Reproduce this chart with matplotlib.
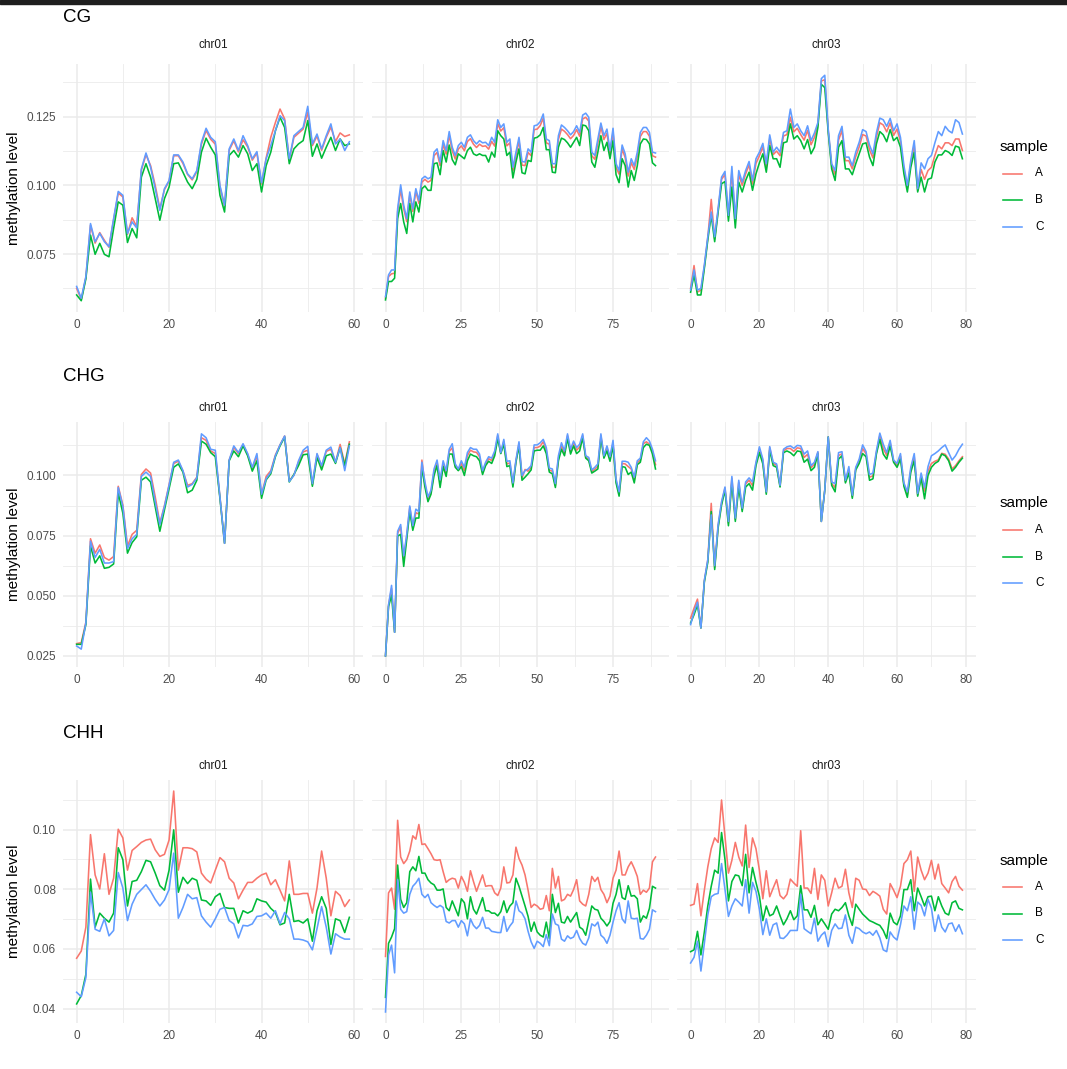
import matplotlib
matplotlib.use('Agg')
import matplotlib.pyplot as plt
from matplotlib.ticker import MultipleLocator, FormatStrFormatter
from matplotlib.lines import Line2D
from matplotlib.patches import Rectangle

plt.rcParams['font.family'] = ['Liberation Sans', 'DejaVu Sans']

# ---- data: methylation level per window, by context / chromosome / sample ----
contexts = ['CG', 'CHG', 'CHH']
chroms = ['chr01', 'chr02', 'chr03']
samples = ['A', 'B', 'C']
colors = {'A': '#F8766D', 'B': '#00BA38', 'C': '#619CFF'}

cg_chr01_A = [0.0625,0.0585,0.0665,0.0855,0.0790,0.0828,0.0800,0.0775,0.0875,0.0972,
              0.0958,0.0822,0.0882,0.0850,0.1055,0.1112,0.1072,0.1000,0.0915,0.0985,
              0.1015,0.1108,0.1108,0.1080,0.1040,0.1020,0.1050,0.1150,0.1200,0.1168,
              0.1150,0.0995,0.0925,0.1128,0.1162,0.1122,0.1166,0.1140,0.1092,0.1118,
              0.1005,0.1100,0.1175,0.1229,0.1278,0.1242,0.1092,0.1175,0.1190,0.1205,
              0.1266,0.1145,0.1180,0.1128,0.1175,0.1212,0.1160,0.1191,0.1178,0.1184]
cg_chr01_B = [0.0601,0.0580,0.0660,0.0819,0.0749,0.0789,0.0749,0.0740,0.0843,0.0940,
              0.0928,0.0792,0.0843,0.0809,0.1030,0.1079,0.1030,0.0952,0.0873,0.0952,
              0.0994,0.1079,0.1082,0.1048,0.1012,0.0988,0.1022,0.1121,0.1172,0.1139,
              0.1111,0.0964,0.0903,0.1109,0.1127,0.1103,0.1145,0.1115,0.1054,0.1079,
              0.0976,0.1072,0.1121,0.1199,0.1248,0.1211,0.1079,0.1133,0.1151,0.1163,
              0.1236,0.1106,0.1151,0.1099,0.1139,0.1175,0.1127,0.1169,0.1145,0.1151]
cg_chr01_C = [0.0632,0.0589,0.0668,0.0861,0.0795,0.0825,0.0795,0.0777,0.0879,0.0978,
              0.0964,0.0825,0.0867,0.0845,0.1060,0.1118,0.1066,0.0988,0.0909,0.0988,
              0.1018,0.1111,0.1111,0.1085,0.1042,0.1024,0.1054,0.1157,0.1208,0.1175,
              0.1159,0.1000,0.0928,0.1133,0.1169,0.1127,0.1181,0.1145,0.1097,0.1123,
              0.1010,0.1097,0.1145,0.1199,0.1254,0.1236,0.1097,0.1181,0.1196,0.1211,
              0.1288,0.1151,0.1187,0.1133,0.1181,0.1224,0.1151,0.1169,0.1127,0.1159]

cg_chr02_A = [0.0590,0.0668,0.0678,0.0680,0.0905,0.0985,0.0915,0.0868,0.0965,0.0905,
              0.0978,0.0935,0.1012,0.1022,0.1012,0.1018,0.1108,0.1120,0.1072,0.1150,
              0.1114,0.1183,0.1126,0.1096,0.1132,0.1144,0.1126,0.1160,0.1170,0.1150,
              0.1138,0.1150,0.1142,0.1144,0.1132,0.1160,0.1143,0.1225,0.1198,0.1210,
              0.1144,0.1155,0.1053,0.1108,0.1162,0.1074,0.1072,0.1120,0.1108,0.1203,
              0.1205,0.1218,0.1245,0.1155,0.1150,0.1066,0.1066,0.1167,0.1205,0.1197,
              0.1185,0.1170,0.1182,0.1203,0.1179,0.1242,0.1248,0.1234,0.1108,0.1095,
              0.1155,0.1213,0.1167,0.1190,0.1113,0.1194,0.1066,0.1041,0.1133,0.1101,
              0.1034,0.1083,0.1058,0.1107,0.1178,0.1196,0.1196,0.1179,0.1108,0.1103]
cg_chr02_B = [0.0583,0.0650,0.0650,0.0662,0.0879,0.0934,0.0867,0.0825,0.0934,0.0867,
              0.0940,0.0903,0.0988,0.0998,0.0982,0.0982,0.1079,0.1082,0.1039,0.1127,
              0.1085,0.1147,0.1094,0.1075,0.1115,0.1106,0.1097,0.1127,0.1139,0.1115,
              0.1109,0.1115,0.1109,0.1109,0.1085,0.1121,0.1103,0.1199,0.1181,0.1169,
              0.1109,0.1121,0.1027,0.1085,0.1133,0.1046,0.1042,0.1091,0.1087,0.1172,
              0.1175,0.1184,0.1211,0.1130,0.1130,0.1048,0.1046,0.1139,0.1172,0.1167,
              0.1155,0.1139,0.1157,0.1175,0.1145,0.1220,0.1217,0.1199,0.1085,0.1066,
              0.1121,0.1181,0.1127,0.1157,0.1097,0.1163,0.1039,0.1010,0.1097,0.1072,
              0.0994,0.1054,0.1018,0.1072,0.1151,0.1169,0.1167,0.1151,0.1082,0.1072]
cg_chr02_C = [0.0595,0.0674,0.0692,0.0692,0.0915,0.1002,0.0928,0.0879,0.0976,0.0915,
              0.0988,0.0946,0.1024,0.1033,0.1024,0.1030,0.1121,0.1133,0.1085,0.1163,
              0.1127,0.1196,0.1139,0.1109,0.1145,0.1157,0.1139,0.1175,0.1184,0.1163,
              0.1151,0.1163,0.1155,0.1157,0.1145,0.1175,0.1157,0.1239,0.1211,0.1224,
              0.1157,0.1169,0.1066,0.1121,0.1175,0.1087,0.1085,0.1133,0.1121,0.1217,
              0.1220,0.1232,0.1260,0.1169,0.1163,0.1079,0.1079,0.1181,0.1220,0.1211,
              0.1199,0.1184,0.1196,0.1217,0.1193,0.1256,0.1263,0.1248,0.1121,0.1109,
              0.1169,0.1227,0.1181,0.1205,0.1127,0.1208,0.1079,0.1054,0.1147,0.1115,
              0.1048,0.1097,0.1072,0.1121,0.1193,0.1211,0.1211,0.1193,0.1121,0.1118]

cg_chr03_A = [0.0625,0.0708,0.0612,0.0618,0.0705,0.0810,0.0949,0.0805,0.0910,0.1022,
              0.1040,0.0885,0.1050,0.0870,0.1040,0.1000,0.1042,0.1075,0.1005,0.1080,
              0.1108,0.1140,0.1068,0.1170,0.1112,0.1125,0.1108,0.1180,0.1185,0.1248,
              0.1195,0.1208,0.1185,0.1165,0.1200,0.1148,0.1175,0.1222,0.1380,0.1385,
              0.1200,0.1072,0.1040,0.1165,0.1200,0.1090,0.1090,0.1060,0.1105,0.1140,
              0.1185,0.1180,0.1130,0.1100,0.1175,0.1228,0.1220,0.1195,0.1228,0.1182,
              0.1205,0.1160,0.1058,0.0990,0.1080,0.1148,0.0982,0.1058,0.1022,0.1054,
              0.1066,0.1109,0.1145,0.1133,0.1155,0.1155,0.1145,0.1169,0.1169,0.1127]
cg_chr03_B = [0.0611,0.0674,0.0601,0.0601,0.0698,0.0801,0.0891,0.0795,0.0903,0.1006,
              0.1014,0.0870,0.0994,0.0845,0.1012,0.0976,0.1018,0.1048,0.0982,0.1042,
              0.1082,0.1115,0.1048,0.1145,0.1097,0.1097,0.1066,0.1155,0.1159,0.1224,
              0.1169,0.1181,0.1163,0.1133,0.1167,0.1115,0.1139,0.1211,0.1368,0.1356,
              0.1193,0.1060,0.1018,0.1139,0.1163,0.1060,0.1060,0.1039,0.1079,0.1115,
              0.1151,0.1155,0.1103,0.1072,0.1151,0.1196,0.1184,0.1159,0.1203,0.1163,
              0.1175,0.1139,0.1042,0.0976,0.1066,0.1121,0.0976,0.1030,0.0976,0.1022,
              0.1027,0.1085,0.1111,0.1111,0.1127,0.1121,0.1109,0.1143,0.1139,0.1097]
cg_chr03_C = [0.0619,0.0692,0.0619,0.0625,0.0710,0.0813,0.0903,0.0813,0.0915,0.1030,
              0.1051,0.0891,0.1069,0.0879,0.1054,0.1012,0.1054,0.1087,0.1018,0.1097,
              0.1121,0.1153,0.1079,0.1184,0.1121,0.1139,0.1121,0.1193,0.1199,0.1278,
              0.1211,0.1224,0.1199,0.1181,0.1217,0.1163,0.1191,0.1229,0.1389,0.1401,
              0.1205,0.1079,0.1054,0.1181,0.1215,0.1103,0.1103,0.1072,0.1121,0.1157,
              0.1203,0.1196,0.1147,0.1115,0.1191,0.1245,0.1239,0.1215,0.1244,0.1199,
              0.1224,0.1175,0.1072,0.1000,0.1091,0.1163,0.0988,0.1082,0.1060,0.1097,
              0.1109,0.1155,0.1196,0.1181,0.1215,0.1199,0.1191,0.1239,0.1229,0.1187]

chg_chr01_A = [0.0301,0.0305,0.0390,0.0737,0.0677,0.0711,0.0659,0.0648,0.0663,0.0955,
               0.0877,0.0707,0.0755,0.0772,0.1004,0.1027,0.1010,0.0911,0.0802,0.0875,
               0.0962,0.1050,0.1059,0.1018,0.0959,0.0966,0.0993,0.1157,0.1146,0.1102,
               0.1091,0.0911,0.0718,0.1064,0.1116,0.1091,0.1128,0.1088,0.1028,0.1082,
               0.0920,0.0996,0.1020,0.1085,0.1127,0.1164,0.0978,0.1002,0.1055,0.1098,
               0.1105,0.0962,0.1088,0.1036,0.1100,0.1109,0.1055,0.1129,0.1048,0.1140]
chg_chr01_B = [0.0298,0.0298,0.0380,0.0707,0.0636,0.0666,0.0614,0.0618,0.0632,0.0928,
               0.0843,0.0677,0.0721,0.0745,0.0980,0.0993,0.0973,0.0870,0.0768,0.0857,
               0.0945,0.1034,0.1048,0.1014,0.0928,0.0939,0.0980,0.1143,0.1130,0.1095,
               0.1078,0.0905,0.0718,0.1061,0.1102,0.1078,0.1123,0.1082,0.1018,0.1061,
               0.0905,0.0982,0.1007,0.1078,0.1123,0.1160,0.0973,0.1004,0.1041,0.1086,
               0.1089,0.0955,0.1075,0.1023,0.1082,0.1089,0.1050,0.1116,0.1041,0.1130]
chg_chr01_C = [0.0291,0.0278,0.0387,0.0727,0.0659,0.0693,0.0636,0.0636,0.0642,0.0950,
               0.0871,0.0696,0.0737,0.0755,0.0996,0.1014,0.0996,0.0891,0.0796,0.0871,
               0.0959,0.1055,0.1064,0.1020,0.0952,0.0963,0.0990,0.1173,0.1157,0.1109,
               0.1105,0.0911,0.0718,0.1064,0.1123,0.1095,0.1132,0.1091,0.1034,0.1091,
               0.0922,0.0986,0.1014,0.1082,0.1127,0.1164,0.0975,0.1000,0.1061,0.1105,
               0.1121,0.0966,0.1091,0.1041,0.1105,0.1118,0.1055,0.1116,0.1020,0.1123]

chg_chr02_A = [0.0250,0.0460,0.0530,0.0348,0.0760,0.0785,0.0650,0.0748,0.0868,0.0782,
               0.0845,0.0840,0.1064,0.0962,0.0902,0.0930,0.1015,0.1055,0.0968,0.1050,
               0.1010,0.1100,0.1115,0.1040,0.1022,0.1050,0.1020,0.1082,0.1105,0.1098,
               0.1096,0.1078,0.1012,0.1048,0.1070,0.1062,0.1093,0.1165,0.1093,0.1142,
               0.1048,0.1052,0.0960,0.1060,0.1132,0.0990,0.1025,0.1018,0.1033,0.1116,
               0.1116,0.1122,0.1140,0.1105,0.1022,0.1018,0.0958,0.1072,0.1124,0.1092,
               0.1165,0.1100,0.1134,0.1105,0.1118,0.1165,0.1075,0.1068,0.1016,0.1026,
               0.1038,0.1165,0.1077,0.1112,0.1068,0.1135,0.0978,0.0923,0.1050,0.1048,
               0.1037,0.1027,0.0982,0.1053,0.1064,0.1132,0.1140,0.1130,0.1100,0.1045]
chg_chr02_B = [0.0250,0.0455,0.0502,0.0348,0.0748,0.0755,0.0622,0.0735,0.0850,0.0772,
               0.0823,0.0823,0.1034,0.0952,0.0891,0.0922,0.1000,0.1041,0.0950,0.1037,
               0.0996,0.1089,0.1089,0.1034,0.1020,0.1037,0.1000,0.1061,0.1089,0.1082,
               0.1078,0.1061,0.1004,0.1041,0.1059,0.1050,0.1082,0.1154,0.1091,0.1130,
               0.1037,0.1041,0.0952,0.1055,0.1123,0.0980,0.0993,0.1007,0.1023,0.1102,
               0.1105,0.1105,0.1123,0.1091,0.1014,0.1007,0.0950,0.1061,0.1109,0.1082,
               0.1154,0.1089,0.1123,0.1091,0.1102,0.1157,0.1072,0.1061,0.1010,0.1018,
               0.1027,0.1157,0.1072,0.1102,0.1059,0.1123,0.0969,0.0914,0.1037,0.1034,
               0.1004,0.1014,0.0969,0.1045,0.1055,0.1116,0.1130,0.1125,0.1089,0.1027]
chg_chr02_C = [0.0250,0.0462,0.0543,0.0348,0.0768,0.0796,0.0666,0.0755,0.0873,0.0791,
               0.0860,0.0850,0.1055,0.0973,0.0911,0.0939,0.1027,0.1064,0.0982,0.1061,
               0.1020,0.1109,0.1132,0.1048,0.1027,0.1061,0.1034,0.1095,0.1116,0.1109,
               0.1109,0.1089,0.1020,0.1055,0.1078,0.1072,0.1102,0.1173,0.1095,0.1150,
               0.1059,0.1061,0.0969,0.1064,0.1140,0.1000,0.1020,0.1027,0.1041,0.1127,
               0.1127,0.1136,0.1150,0.1116,0.1031,0.1027,0.0966,0.1082,0.1136,0.1102,
               0.1173,0.1109,0.1143,0.1116,0.1130,0.1173,0.1082,0.1075,0.1023,0.1034,
               0.1048,0.1173,0.1082,0.1123,0.1078,0.1146,0.0986,0.0932,0.1059,0.1059,
               0.1055,0.1034,0.0993,0.1061,0.1072,0.1140,0.1157,0.1143,0.1109,0.1061]

chg_chr03_A = [0.0407,0.0448,0.0486,0.0366,0.0562,0.0648,0.0884,0.0618,0.0790,0.0885,
               0.0948,0.0802,0.0988,0.0818,0.0972,0.0858,0.0965,0.0980,0.0958,0.1050,
               0.1110,0.1060,0.0928,0.1115,0.1050,0.1042,0.0956,0.1102,0.1112,0.1112,
               0.1100,0.1115,0.1112,0.1075,0.1088,0.1032,0.1046,0.1096,0.0809,0.0939,
               0.1160,0.0966,0.0950,0.1083,0.1090,0.0975,0.1025,0.0912,0.1030,0.1060,
               0.1112,0.1090,0.0993,0.0998,0.1096,0.1165,0.1112,0.1083,0.1136,0.1060,
               0.1043,0.1080,0.0962,0.0922,0.1024,0.1078,0.0920,0.1000,0.0935,0.1018,
               0.1050,0.1059,0.1065,0.1092,0.1088,0.1068,0.1027,0.1041,0.1061,0.1078]
chg_chr03_B = [0.0387,0.0421,0.0462,0.0366,0.0557,0.0639,0.0850,0.0609,0.0782,0.0877,
               0.0939,0.0791,0.0973,0.0809,0.0952,0.0850,0.0952,0.0966,0.0939,0.1041,
               0.1095,0.1048,0.0922,0.1105,0.1041,0.1034,0.0952,0.1095,0.1102,0.1095,
               0.1082,0.1102,0.1099,0.1055,0.1068,0.1020,0.1034,0.1091,0.0809,0.0939,
               0.1160,0.0959,0.0932,0.1068,0.1082,0.0969,0.1010,0.0905,0.1023,0.1050,
               0.1091,0.1078,0.0980,0.0986,0.1089,0.1150,0.1089,0.1068,0.1123,0.1055,
               0.1034,0.1068,0.0955,0.0909,0.1014,0.1061,0.0914,0.0990,0.0903,0.1000,
               0.1034,0.1050,0.1059,0.1089,0.1082,0.1061,0.1018,0.1034,0.1055,0.1072]
chg_chr03_C = [0.0380,0.0432,0.0473,0.0366,0.0564,0.0650,0.0836,0.0625,0.0796,0.0891,
               0.0952,0.0809,0.0996,0.0823,0.0980,0.0864,0.0973,0.0990,0.0973,0.1055,
               0.1119,0.1068,0.0932,0.1120,0.1055,0.1048,0.0959,0.1109,0.1119,0.1123,
               0.1113,0.1125,0.1123,0.1089,0.1102,0.1041,0.1055,0.1099,0.0809,0.0939,
               0.1160,0.0973,0.0966,0.1095,0.1099,0.0980,0.1037,0.0918,0.1034,0.1068,
               0.1127,0.1099,0.1004,0.1010,0.1102,0.1176,0.1130,0.1095,0.1146,0.1064,
               0.1050,0.1091,0.0969,0.0932,0.1034,0.1091,0.0925,0.1010,0.0950,0.1037,
               0.1082,0.1091,0.1102,0.1116,0.1127,0.1095,0.1064,0.1082,0.1109,0.1130]

chh_chr01_A = [0.0569,0.0593,0.0673,0.0983,0.0848,0.0801,0.0919,0.0783,0.0837,0.1001,
               0.0972,0.0864,0.0930,0.0943,0.0957,0.0965,0.0968,0.0932,0.0910,0.0917,
               0.0965,0.1129,0.0864,0.0939,0.0939,0.0936,0.0925,0.0854,0.0834,0.0821,
               0.0864,0.0906,0.0892,0.0837,0.0821,0.0768,0.0797,0.0823,0.0823,0.0837,
               0.0848,0.0854,0.0815,0.0832,0.0797,0.0761,0.0895,0.0783,0.0783,0.0786,
               0.0786,0.0720,0.0804,0.0928,0.0837,0.0711,0.0793,0.0779,0.0742,0.0764]
chh_chr01_B = [0.0416,0.0444,0.0515,0.0834,0.0673,0.0720,0.0703,0.0690,0.0720,0.0939,
               0.0899,0.0744,0.0826,0.0830,0.0859,0.0897,0.0892,0.0854,0.0812,0.0797,
               0.0864,0.0999,0.0790,0.0840,0.0819,0.0837,0.0830,0.0764,0.0761,0.0746,
               0.0775,0.0786,0.0739,0.0736,0.0736,0.0687,0.0728,0.0720,0.0728,0.0768,
               0.0761,0.0757,0.0736,0.0722,0.0681,0.0687,0.0783,0.0692,0.0695,0.0687,
               0.0701,0.0626,0.0728,0.0775,0.0736,0.0615,0.0701,0.0695,0.0655,0.0706]
chh_chr01_C = [0.0455,0.0440,0.0504,0.0790,0.0666,0.0659,0.0701,0.0644,0.0662,0.0856,
               0.0804,0.0695,0.0750,0.0783,0.0799,0.0815,0.0793,0.0766,0.0744,0.0764,
               0.0799,0.0921,0.0703,0.0739,0.0783,0.0768,0.0772,0.0711,0.0690,0.0673,
               0.0701,0.0733,0.0739,0.0695,0.0684,0.0637,0.0679,0.0677,0.0684,0.0709,
               0.0711,0.0720,0.0703,0.0728,0.0684,0.0722,0.0701,0.0633,0.0633,0.0630,
               0.0624,0.0597,0.0668,0.0742,0.0673,0.0583,0.0651,0.0640,0.0633,0.0633]

chh_chr02_A = [0.0575,0.0788,0.0804,0.0733,0.1031,0.0908,0.0886,0.0899,0.0928,0.0979,
               0.0968,0.1017,0.0950,0.0952,0.0936,0.0919,0.0899,0.0897,0.0899,0.0859,
               0.0823,0.0832,0.0837,0.0834,0.0804,0.0843,0.0823,0.0793,0.0862,0.0826,
               0.0793,0.0821,0.0848,0.0810,0.0812,0.0812,0.0788,0.0779,0.0804,0.0875,
               0.0821,0.0823,0.0848,0.0941,0.0903,0.0881,0.0848,0.0797,0.0739,0.0750,
               0.0744,0.0733,0.0736,0.0779,0.0728,0.0870,0.0804,0.0843,0.0761,0.0766,
               0.0783,0.0777,0.0799,0.0832,0.0761,0.0750,0.0744,0.0783,0.0843,0.0826,
               0.0840,0.0799,0.0783,0.0755,0.0777,0.0837,0.0864,0.0928,0.0848,0.0848,
               0.0875,0.0892,0.0870,0.0843,0.0783,0.0797,0.0790,0.0804,0.0892,0.0908]
chh_chr02_B = [0.0438,0.0619,0.0640,0.0668,0.0881,0.0766,0.0739,0.0755,0.0859,0.0875,
               0.0862,0.0910,0.0854,0.0854,0.0832,0.0821,0.0815,0.0797,0.0797,0.0801,
               0.0739,0.0728,0.0761,0.0736,0.0711,0.0768,0.0755,0.0701,0.0775,0.0733,
               0.0717,0.0744,0.0772,0.0728,0.0728,0.0720,0.0720,0.0711,0.0725,0.0761,
               0.0722,0.0744,0.0755,0.0837,0.0810,0.0777,0.0744,0.0709,0.0659,0.0690,
               0.0657,0.0646,0.0640,0.0690,0.0635,0.0783,0.0722,0.0753,0.0690,0.0687,
               0.0709,0.0690,0.0706,0.0722,0.0673,0.0666,0.0646,0.0695,0.0744,0.0733,
               0.0730,0.0703,0.0692,0.0677,0.0692,0.0753,0.0783,0.0832,0.0772,0.0766,
               0.0812,0.0777,0.0779,0.0768,0.0690,0.0711,0.0703,0.0736,0.0810,0.0804]
chh_chr02_C = [0.0389,0.0580,0.0613,0.0520,0.0832,0.0733,0.0720,0.0725,0.0783,0.0810,
               0.0821,0.0837,0.0783,0.0772,0.0783,0.0755,0.0746,0.0739,0.0746,0.0739,
               0.0692,0.0687,0.0695,0.0695,0.0673,0.0695,0.0684,0.0644,0.0701,0.0679,
               0.0668,0.0679,0.0706,0.0670,0.0670,0.0659,0.0657,0.0655,0.0655,0.0709,
               0.0659,0.0677,0.0690,0.0761,0.0728,0.0720,0.0701,0.0659,0.0624,0.0602,
               0.0626,0.0619,0.0608,0.0648,0.0611,0.0717,0.0684,0.0679,0.0633,0.0626,
               0.0644,0.0635,0.0640,0.0662,0.0635,0.0619,0.0613,0.0637,0.0684,0.0677,
               0.0690,0.0646,0.0637,0.0619,0.0646,0.0690,0.0728,0.0755,0.0701,0.0687,
               0.0761,0.0703,0.0701,0.0703,0.0635,0.0633,0.0646,0.0666,0.0731,0.0725]

chh_chr03_A = [0.0746,0.0750,0.0819,0.0711,0.0797,0.0875,0.0936,0.0972,0.0957,0.1099,
               0.0976,0.0854,0.0897,0.0957,0.0908,0.0878,0.1015,0.0873,0.0972,0.0936,
               0.0864,0.0768,0.0862,0.0775,0.0804,0.0832,0.0779,0.0768,0.0783,0.0834,
               0.0821,0.0810,0.0996,0.0804,0.0804,0.0786,0.0870,0.0766,0.0848,0.0830,
               0.0744,0.0788,0.0837,0.0804,0.0810,0.0867,0.0788,0.0739,0.0837,0.0830,
               0.0801,0.0799,0.0779,0.0793,0.0786,0.0777,0.0733,0.0717,0.0819,0.0797,
               0.0772,0.0810,0.0886,0.0899,0.0928,0.0793,0.0908,0.0864,0.0832,0.0854,
               0.0897,0.0834,0.0884,0.0819,0.0804,0.0788,0.0826,0.0843,0.0810,0.0797]
chh_chr03_B = [0.0591,0.0597,0.0659,0.0580,0.0657,0.0744,0.0810,0.0864,0.0854,0.0990,
               0.0899,0.0761,0.0826,0.0848,0.0845,0.0812,0.0917,0.0788,0.0873,0.0823,
               0.0777,0.0695,0.0744,0.0711,0.0717,0.0744,0.0711,0.0681,0.0701,0.0728,
               0.0698,0.0711,0.0812,0.0731,0.0731,0.0706,0.0746,0.0681,0.0701,0.0684,
               0.0666,0.0717,0.0733,0.0728,0.0739,0.0755,0.0711,0.0679,0.0750,0.0733,
               0.0717,0.0706,0.0695,0.0690,0.0684,0.0679,0.0662,0.0635,0.0720,0.0690,
               0.0681,0.0711,0.0799,0.0799,0.0832,0.0728,0.0804,0.0775,0.0744,0.0775,
               0.0777,0.0728,0.0775,0.0744,0.0720,0.0714,0.0755,0.0761,0.0736,0.0731]
chh_chr03_C = [0.0553,0.0572,0.0626,0.0526,0.0619,0.0714,0.0775,0.0783,0.0786,0.0886,
               0.0799,0.0709,0.0744,0.0768,0.0757,0.0744,0.0832,0.0720,0.0823,0.0793,
               0.0733,0.0648,0.0701,0.0646,0.0681,0.0687,0.0637,0.0635,0.0646,0.0662,
               0.0662,0.0662,0.0783,0.0668,0.0659,0.0651,0.0703,0.0626,0.0646,0.0657,
               0.0608,0.0662,0.0684,0.0668,0.0670,0.0714,0.0646,0.0619,0.0673,0.0668,
               0.0657,0.0651,0.0657,0.0646,0.0662,0.0637,0.0597,0.0591,0.0657,0.0640,
               0.0630,0.0681,0.0744,0.0728,0.0775,0.0666,0.0757,0.0746,0.0711,0.0766,
               0.0736,0.0659,0.0714,0.0673,0.0657,0.0684,0.0687,0.0659,0.0681,0.0651]

data = {
    'CG': {'chr01': [cg_chr01_A, cg_chr01_B, cg_chr01_C],
           'chr02': [cg_chr02_A, cg_chr02_B, cg_chr02_C],
           'chr03': [cg_chr03_A, cg_chr03_B, cg_chr03_C]},
    'CHG': {'chr01': [chg_chr01_A, chg_chr01_B, chg_chr01_C],
            'chr02': [chg_chr02_A, chg_chr02_B, chg_chr02_C],
            'chr03': [chg_chr03_A, chg_chr03_B, chg_chr03_C]},
    'CHH': {'chr01': [chh_chr01_A, chh_chr01_B, chh_chr01_C],
            'chr02': [chh_chr02_A, chh_chr02_B, chh_chr02_C],
            'chr03': [chh_chr03_A, chh_chr03_B, chh_chr03_C]},
}

# axis breaks
x_step = {'chr01': 20, 'chr02': 25, 'chr03': 20}
y_step = {'CG': 0.025, 'CHG': 0.025, 'CHH': 0.02}
y_fmt = {'CG': '%.3f', 'CHG': '%.3f', 'CHH': '%.2f'}

# ---- layout (pixels) ----
W, H = 1067, 1069
fig = plt.figure(figsize=(W / 100, H / 100), dpi=100)
fig.patch.set_facecolor('white')
fig.patches.append(Rectangle((0, 1 - 4 / H), 1, 4 / H, transform=fig.transFigure,
                             color='#1e1e1e', zorder=10))

col_px = [(63, 363), (372, 669), (677, 976)]
row_px = [(64, 312), (422, 667), (780, 1023)]
title_y = [18, 377, 734]
strip_y = [45, 408, 766]

grid_col = '#EBEBEB'
text_col = '#4D4D4D'

for r, ctx in enumerate(contexts):
    top, bot = row_px[r]
    first = None
    for c, chrom in enumerate(chroms):
        x0, x1 = col_px[c]
        rect = [x0 / W, 1 - bot / H, (x1 - x0) / W, (bot - top) / H]
        ax = fig.add_axes(rect, sharey=first)
        if first is None:
            first = ax
        for s, vals in zip(samples, data[ctx][chrom]):
            ax.plot(range(len(vals)), vals, color=colors[s], lw=1.15,
                    solid_joinstyle='round')
        ax.xaxis.set_major_locator(MultipleLocator(x_step[chrom]))
        ax.xaxis.set_minor_locator(MultipleLocator(x_step[chrom] / 2))
        ax.yaxis.set_major_locator(MultipleLocator(y_step[ctx]))
        ax.yaxis.set_minor_locator(MultipleLocator(y_step[ctx] / 2))
        ax.yaxis.set_major_formatter(FormatStrFormatter(y_fmt[ctx]))
        ax.grid(which='major', color=grid_col, lw=1.1)
        ax.grid(which='minor', color=grid_col, lw=0.6)
        ax.set_axisbelow(True)
        for sp in ax.spines.values():
            sp.set_visible(False)
        ax.tick_params(which='both', length=0, labelsize=8.5, labelcolor=text_col,
                       pad=5)
        if c > 0:
            ax.tick_params(axis='y', labelleft=False)
        ax.margins(x=0.05, y=0.05)
        ax.text(0.5, 1 + (top - strip_y[r]) / (bot - top), chrom,
                transform=ax.transAxes, ha='center', va='center',
                fontsize=8.5, color='#1A1A1A')

    fig.text(63 / W, 1 - title_y[r] / H, ctx, fontsize=13.5, ha='left', va='center')
    mid = (top + bot) / 2
    fig.text(14 / W, 1 - mid / H, 'methylation level', rotation=90,
             ha='center', va='center', fontsize=11)

    # legend
    ly = mid - 41
    fig.text(1000 / W, 1 - ly / H, 'sample', fontsize=11, ha='left', va='center')
    for k, s in enumerate(samples):
        yy = 1 - (ly + 26.5 * (k + 1)) / H
        fig.add_artist(Line2D([1003 / W, 1022 / W], [yy, yy], transform=fig.transFigure,
                              color=colors[s], lw=1.15))
        fig.text(1035 / W, yy, s, fontsize=8.5, ha='left', va='center')

fig.savefig('out.png', dpi=100)
